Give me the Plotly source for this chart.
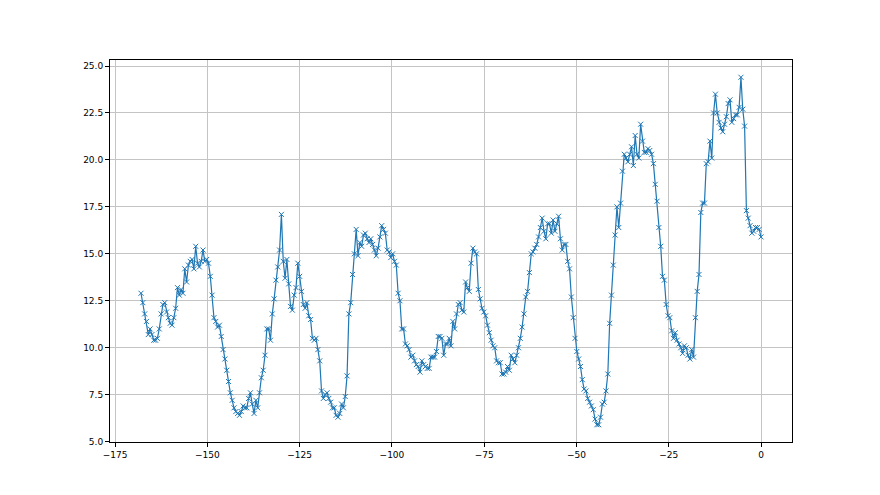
import plotly.graph_objects as go

x_start = -168.0
x_end = 0.0

values = [
    12.9, 12.4, 11.8, 11.4, 10.7, 11.0, 10.7, 10.4, 10.4, 10.5, 11.0, 11.8, 12.3, 12.4, 11.9, 11.6, 11.3, 11.2, 11.6, 12.1, 13.2, 12.8, 13.1, 12.9, 14.2, 13.5,
    14.4, 14.6, 14.7, 14.2, 15.4, 14.5, 14.3, 14.6, 15.2, 14.6, 14.7, 14.5, 13.8, 12.8, 11.6, 11.4, 11.1, 11.2, 10.6, 9.9, 9.4, 8.8, 8.2, 7.6, 7.2, 6.8, 6.6, 6.5,
    6.4, 6.6, 6.9, 6.8, 6.8, 7.3, 7.6, 7.0, 6.5, 7.2, 6.8, 7.6, 8.4, 8.8, 9.6, 11.0, 11.0, 10.4, 11.8, 12.6, 13.6, 14.3, 15.2, 17.1, 14.6, 13.7, 14.7,
    13.4, 12.2, 12.0, 12.8, 13.2, 14.5, 13.8, 13.0, 12.3, 12.1, 12.4, 11.7, 11.5, 10.5, 10.4, 10.5, 9.9, 9.3, 7.7, 7.3, 7.5, 7.6, 7.3, 7.1, 6.8, 6.8, 6.4,
    6.3, 6.5, 7.0, 6.8, 7.4, 8.5, 11.8, 12.4, 13.9, 15.0, 16.3, 14.9, 15.6, 15.4, 16.0, 16.1, 15.8, 15.6, 15.8, 15.5, 15.2, 14.9, 15.3, 15.9, 16.5, 16.3, 16.1, 15.2, 15.1,
    14.8, 15.0, 14.6, 14.4, 12.9, 12.5, 11.0, 11.0, 10.2, 10.1, 9.9, 9.5, 9.6, 9.3, 9.1, 9.0, 8.7, 9.3, 9.1, 9.0, 8.9, 8.9, 9.5, 9.5, 9.5, 9.8, 10.6,
    10.6, 10.5, 9.6, 10.2, 10.2, 10.5, 10.1, 11.4, 11.0, 11.8, 12.3, 12.4, 12.0, 11.9, 13.5, 13.2, 13.0, 14.5, 15.3, 15.1, 15.0, 13.1, 12.6, 12.1, 11.9, 11.7, 11.2,
    10.8, 10.4, 10.1, 10.0, 9.3, 9.2, 9.2, 8.6, 8.6, 8.7, 9.0, 8.8, 9.6, 9.4, 9.2, 9.6, 10.0, 10.5, 11.1, 11.8, 12.7, 13.0, 14.0, 15.0, 15.1, 15.3,
    15.5, 15.9, 16.4, 16.9, 16.2, 15.8, 16.6, 16.6, 16.1, 16.8, 16.2, 16.6, 17.0, 15.8, 15.2, 15.5, 15.5, 14.6, 14.2, 12.7, 11.6, 10.5, 9.8, 9.4, 9.0, 8.3, 7.8, 7.7,
    7.3, 7.1, 6.9, 6.7, 6.2, 5.9, 5.9, 6.3, 7.0, 7.1, 7.7, 8.6, 11.3, 12.8, 14.4, 16.0, 17.5, 16.4, 17.7, 19.4, 20.3, 20.1, 19.9, 20.3, 20.7, 19.7, 21.3,
    20.3, 20.1, 21.9, 21.0, 20.4, 20.4, 20.6, 20.5, 20.3, 19.8, 18.7, 17.8, 16.4, 15.4, 13.8, 13.6, 12.3, 11.7, 11.6, 10.9, 10.5, 10.8, 10.4, 10.2, 10.0, 9.7, 10.1, 10.0,
    9.6, 9.4, 9.9, 9.5, 11.6, 13.0, 13.9, 17.2, 17.7, 17.7, 19.8, 19.9, 21.0, 20.1, 22.5, 23.5, 22.5, 22.0, 21.7, 21.5, 21.9, 22.3, 23.0, 23.2, 22.0, 22.2, 22.4, 22.4, 22.8, 24.4, 22.7, 21.8, 17.3, 16.9, 16.5, 16.1, 16.2, 16.4, 16.4, 16.3, 15.9,
]

n = len(values)
step = (x_end - x_start) / (n - 1)
xs = [x_start + i * step for i in range(n)]

x_ticks = [-175, -150, -125, -100, -75, -50, -25, 0]
x_tick_labels = ["\u2212175", "\u2212150", "\u2212125", "\u2212100", "\u221275", "\u221250", "\u221225", "0"]
y_ticks = [5.0, 7.5, 10.0, 12.5, 15.0, 17.5, 20.0, 22.5, 25.0]
y_tick_labels = ["5.0", "7.5", "10.0", "12.5", "15.0", "17.5", "20.0", "22.5", "25.0"]

color = "#1f77b4"

fig = go.Figure()
fig.add_trace(go.Scatter(
    x=xs, y=values, mode="lines+markers",
    line=dict(color=color, width=1.2),
    marker=dict(symbol="x-thin", size=5, color=color, line=dict(color=color, width=1)),
    showlegend=False,
))

axis_common = dict(
    showline=True, mirror=True, linecolor="black", linewidth=1,
    ticks="outside", ticklen=4, tickwidth=1, tickcolor="black",
    showgrid=True, gridcolor="#c4c4c4", gridwidth=0.8,
    zeroline=False,
    tickfont=dict(family="DejaVu Sans", size=9, color="black"),
)

fig.update_layout(
    width=880, height=495,
    margin=dict(l=102, r=96, t=52, b=61),
    paper_bgcolor="white", plot_bgcolor="white",
    xaxis=dict(range=[-176.4, 8.4], tickvals=x_ticks, ticktext=x_tick_labels, **axis_common),
    yaxis=dict(range=[4.98, 25.32], tickvals=y_ticks, ticktext=y_tick_labels, **axis_common),
)

fig.write_html("out.html")
